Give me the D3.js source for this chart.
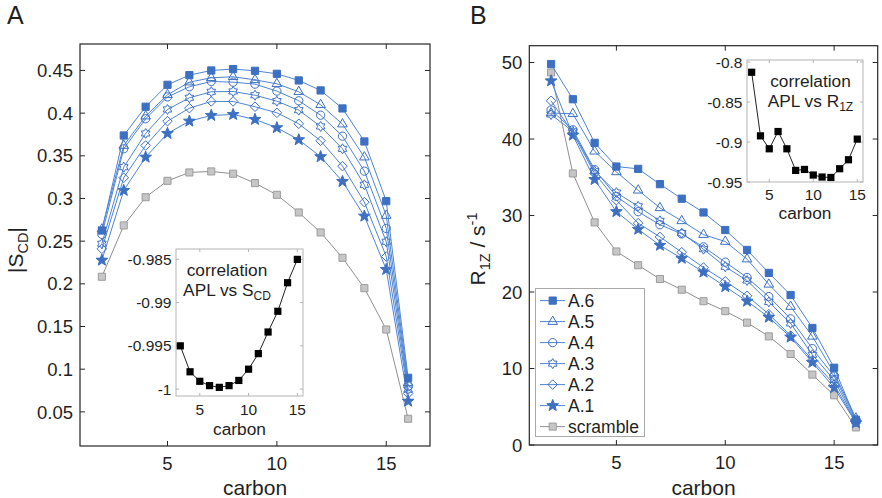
<!DOCTYPE html>
<html>
<head>
<meta charset="utf-8">
<script src="https://cdn.jsdelivr.net/npm/d3@7"></script>
<style>
  body { margin: 0; background: #fff; }
  svg { display: block; }
  text { font-family: "Liberation Sans", Arial, Helvetica, sans-serif; fill: #1f1f1f; }
</style>
</head>
<body>
<svg id="chart" width="882" height="498"></svg>
<script>
// carbons 2..16 for the main panels, 3..15 for the insets
const carbons = [2, 3, 4, 5, 6, 7, 8, 9, 10, 11, 12, 13, 14, 15, 16];
const carbonsInset = [3, 4, 5, 6, 7, 8, 9, 10, 11, 12, 13, 14, 15];
const seriesNames = ["A.6", "A.5", "A.4", "A.3", "A.2", "A.1", "scramble"];

// panel A : |S_CD|
const scdA6 = [0.2625, 0.3738, 0.4075, 0.4332, 0.4445, 0.4500, 0.4516, 0.4496, 0.4461, 0.4383, 0.4266, 0.4055, 0.3668, 0.2969, 0.0899];
const scdA5 = [0.2640, 0.3620, 0.3965, 0.4215, 0.4363, 0.4414, 0.4426, 0.4390, 0.4344, 0.4250, 0.4098, 0.3871, 0.3484, 0.2800, 0.0840];
const scdA4 = [0.2580, 0.3582, 0.3934, 0.4190, 0.4309, 0.4371, 0.4363, 0.4340, 0.4258, 0.4145, 0.3976, 0.3730, 0.3320, 0.2649, 0.0800];
const scdA3 = [0.2470, 0.3367, 0.3762, 0.4043, 0.4180, 0.4250, 0.4254, 0.4210, 0.4140, 0.4035, 0.3844, 0.3582, 0.3160, 0.2493, 0.0760];
const scdA2 = [0.2410, 0.3243, 0.3621, 0.3906, 0.4058, 0.4137, 0.4137, 0.4075, 0.4004, 0.3875, 0.3676, 0.3379, 0.2957, 0.2320, 0.0715];
const scdA1 = [0.2277, 0.3094, 0.3484, 0.3762, 0.3906, 0.3973, 0.3984, 0.3926, 0.3829, 0.3688, 0.3489, 0.3199, 0.2793, 0.2168, 0.0625];
const scdScramble = [0.2083, 0.2684, 0.3015, 0.3207, 0.3305, 0.3317, 0.3290, 0.3180, 0.3043, 0.2836, 0.2602, 0.2305, 0.1949, 0.1465, 0.0419];
const corrScd = [-0.9950, -0.9980, -0.9991, -0.9996, -0.9998, -0.9996, -0.9990, -0.9977, -0.9959, -0.9934, -0.9910, -0.9877, -0.9850];

// panel B : R1Z
const r1zA6 = [49.8, 45.2, 39.5, 36.4, 36.1, 34.1, 32.2, 30.4, 28.1, 25.5, 22.5, 19.6, 15.3, 10.1, 3.3];
const r1zA5 = [43.4, 43.3, 38.4, 35.7, 33.3, 31.0, 29.3, 27.5, 26.6, 24.3, 21.0, 18.1, 14.2, 9.4, 3.5];
const r1zA4 = [43.8, 41.2, 36.0, 32.5, 30.5, 28.8, 27.6, 25.9, 23.9, 21.9, 19.4, 16.5, 12.6, 9.0, 3.3];
const r1zA3 = [43.2, 41.0, 35.8, 33.0, 31.2, 29.3, 27.7, 25.6, 23.3, 21.5, 18.7, 15.9, 11.8, 8.5, 3.1];
const r1zA2 = [45.0, 40.8, 35.5, 32.0, 29.0, 27.2, 25.2, 23.2, 21.4, 19.5, 17.1, 14.3, 11.1, 7.9, 3.0];
const r1zA1 = [47.6, 40.5, 34.7, 30.5, 28.2, 26.1, 24.4, 22.6, 20.7, 18.8, 16.7, 14.1, 10.8, 7.5, 2.9];
const r1zScramble = [48.7, 35.5, 29.1, 25.3, 23.5, 21.7, 20.3, 18.8, 17.5, 16.0, 14.2, 11.9, 9.2, 6.5, 2.3];
const corrR1z = [-0.8128, -0.8923, -0.9085, -0.8869, -0.9085, -0.9355, -0.9343, -0.9413, -0.9438, -0.9443, -0.9334, -0.9222, -0.8964];

const xTicks = [5, 10, 15];
const yTicksScd = [0.05, 0.1, 0.15, 0.2, 0.25, 0.3, 0.35, 0.4, 0.45];
const yTicksR1z = [0, 10, 20, 30, 40, 50];
const yTicksCorrScd = [-1, -0.995, -0.99, -0.985];
const yTicksCorrR1z = [-0.95, -0.9, -0.85, -0.8];

const BLUE = "#3d70c2";
const BLUE_LINE = "#4f84d2";

// custom marker shapes (size = radius^2)
const starType = (n, ratio) => ({
  draw(ctx, size) {
    const r = Math.sqrt(size);
    for (let i = 0; i < 2 * n; i++) {
      const a = -Math.PI / 2 + (i * Math.PI) / n;
      const rr = i % 2 === 0 ? r : r * ratio;
      if (i === 0) ctx.moveTo(rr * Math.cos(a), rr * Math.sin(a));
      else ctx.lineTo(rr * Math.cos(a), rr * Math.sin(a));
    }
    ctx.closePath();
  },
});
const diamondType = {
  draw(ctx, size) {
    const r = Math.sqrt(size);
    ctx.moveTo(0, -r);
    ctx.lineTo(r, 0);
    ctx.lineTo(0, r);
    ctx.lineTo(-r, 0);
    ctx.closePath();
  },
};

const markerStyles = {
  "A.6": { type: d3.symbolSquare, size: 52, fill: BLUE, stroke: BLUE, line: BLUE_LINE },
  "A.5": { type: d3.symbolTriangle, size: 40, fill: "none", stroke: BLUE, line: BLUE_LINE },
  "A.4": { type: d3.symbolCircle, size: 54, fill: "none", stroke: BLUE, line: BLUE_LINE },
  "A.3": { type: starType(6, 0.6), size: 25, fill: "none", stroke: BLUE, line: BLUE_LINE },
  "A.2": { type: diamondType, size: 23, fill: "none", stroke: BLUE, line: BLUE_LINE },
  "A.1": { type: starType(5, 0.42), size: 38, fill: BLUE, stroke: BLUE, line: BLUE_LINE },
  scramble: { type: d3.symbolSquare, size: 50, fill: "#c6c6c6", stroke: "#9c9c9c", line: "#8f8f8f" },
};

const svg = d3.select("#chart");

const drawFrame = (g, box, x, y, ticksX, ticksY, fmtY, opts) => {
  const { tickLen, color, labelSize, labelGap, xLabelOffset } = opts;
  g.append("rect")
    .attr("x", box.left).attr("y", box.top)
    .attr("width", box.right - box.left).attr("height", box.bottom - box.top)
    .attr("fill", "#fff").attr("stroke", color).attr("stroke-width", opts.frameWidth || 1);

  const ticks = g.append("g").attr("stroke", color).attr("stroke-width", 1);
  ticksX.forEach((t) => {
    ticks.append("line").attr("x1", x(t)).attr("x2", x(t)).attr("y1", box.bottom).attr("y2", box.bottom - tickLen);
    ticks.append("line").attr("x1", x(t)).attr("x2", x(t)).attr("y1", box.top).attr("y2", box.top + tickLen);
  });
  ticksY.forEach((t) => {
    ticks.append("line").attr("y1", y(t)).attr("y2", y(t)).attr("x1", box.left).attr("x2", box.left + tickLen);
    ticks.append("line").attr("y1", y(t)).attr("y2", y(t)).attr("x1", box.right).attr("x2", box.right - tickLen);
  });

  g.append("g").selectAll("text").data(ticksX).enter().append("text")
    .attr("x", (d) => x(d)).attr("y", box.bottom + xLabelOffset)
    .attr("text-anchor", "middle").attr("font-size", labelSize)
    .text((d) => d);
  g.append("g").selectAll("text").data(ticksY).enter().append("text")
    .attr("x", box.left - labelGap).attr("y", (d) => y(d)).attr("dy", "0.36em")
    .attr("text-anchor", "end").attr("font-size", labelSize)
    .text(fmtY);
};

const drawSeries = (g, x, y, xs, values, style) => {
  const line = d3.line().x((d, i) => x(xs[i])).y((d) => y(d));
  g.append("path").datum(values)
    .attr("d", line).attr("fill", "none")
    .attr("stroke", style.line).attr("stroke-width", 1);
  g.append("g").selectAll("path").data(values).enter().append("path")
    .attr("transform", (d, i) => `translate(${x(xs[i])},${y(d)})`)
    .attr("d", d3.symbol().type(style.type).size(style.size))
    .attr("fill", style.fill).attr("stroke", style.stroke).attr("stroke-width", 1);
};

const drawMain = (box, yDomain, yTicks, fmtY, seriesValues) => {
  const g = svg.append("g");
  const x = d3.scaleLinear().domain([1, 17]).range([box.left, box.right]);
  const y = d3.scaleLinear().domain(yDomain).range([box.bottom, box.top]);
  drawFrame(g, box, x, y, xTicks, yTicks, fmtY, {
    tickLen: 5, color: "#262626", labelSize: 18.5, labelGap: 7, xLabelOffset: 24, frameWidth: 1.2,
  });
  const order = ["scramble", "A.1", "A.2", "A.3", "A.4", "A.5", "A.6"];
  order.forEach((name) => {
    drawSeries(g, x, y, carbons, seriesValues[name], markerStyles[name]);
  });
  g.append("text")
    .attr("x", (box.left + box.right) / 2).attr("y", 495)
    .attr("text-anchor", "middle").attr("font-size", 21)
    .text("carbon");
  return g;
};

const drawInset = (box, xDomain, yDomain, yTicks, values, tickY, carbonY) => {
  const g = svg.append("g");
  const x = d3.scaleLinear().domain(xDomain).range([box.left, box.right]);
  const y = d3.scaleLinear().domain(yDomain).range([box.bottom, box.top]);
  drawFrame(g, box, x, y, xTicks, yTicks, (d) => String(+d.toFixed(3)), {
    tickLen: 3, color: "#b4b4b4", labelSize: 15.5, labelGap: 4.5, xLabelOffset: tickY,
  });
  const line = d3.line().x((d, i) => x(carbonsInset[i])).y((d) => y(d));
  g.append("path").datum(values)
    .attr("d", line).attr("fill", "none").attr("stroke", "#222").attr("stroke-width", 1);
  g.append("g").selectAll("rect").data(values).enter().append("rect")
    .attr("x", (d, i) => x(carbonsInset[i]) - 3.6).attr("y", (d) => y(d) - 3.6)
    .attr("width", 7.2).attr("height", 7.2).attr("fill", "#000");
  g.append("text")
    .attr("x", (box.left + box.right) / 2).attr("y", carbonY)
    .attr("text-anchor", "middle").attr("font-size", 17.3)
    .text("carbon");
  return g;
};

const corrLabel = (cx, y1, y2, sym, sub) => {
  svg.append("text").attr("x", cx).attr("y", y1)
    .attr("text-anchor", "middle").attr("font-size", 17.3).text("correlation");
  const t = svg.append("text").attr("x", cx).attr("y", y2)
    .attr("text-anchor", "middle").attr("font-size", 17.3);
  t.append("tspan").text("APL vs " + sym);
  t.append("tspan").attr("dy", 4).attr("font-size", 12).text(sub);
};

// ---------- panel A ----------
const boxA = { left: 80, top: 44, right: 430, bottom: 446 };
drawMain(boxA, [0.01, 0.481], yTicksScd, (d) => String(+d.toFixed(2)), {
  "A.6": scdA6, "A.5": scdA5, "A.4": scdA4, "A.3": scdA3, "A.2": scdA2, "A.1": scdA1, scramble: scdScramble,
});
drawInset({ left: 176, top: 249, right: 303, bottom: 396 }, [2.56, 15.58], [-1.0008, -0.9838], yTicksCorrScd, corrScd, 18.5, 435);
corrLabel(227, 276, 296, "S", "CD");

const ylabA = svg.append("text")
  .attr("transform", "translate(23,250) rotate(-90)")
  .attr("text-anchor", "middle").attr("font-size", 21);
ylabA.append("tspan").text("|S");
ylabA.append("tspan").attr("dy", 5).attr("font-size", 14.5).text("CD");
ylabA.append("tspan").attr("dy", -5).text("|");

svg.append("text").attr("x", 7).attr("y", 24).attr("font-size", 25).text("A");

// ---------- panel B ----------
const boxB = { left: 529.3, top: 45.7, right: 877.7, bottom: 445 };
drawMain(boxB, [0, 52.2], yTicksR1z, (d) => String(d), {
  "A.6": r1zA6, "A.5": r1zA5, "A.4": r1zA4, "A.3": r1zA3, "A.2": r1zA2, "A.1": r1zA1, scramble: r1zScramble,
});
drawInset({ left: 747, top: 60, right: 863, bottom: 182 }, [2.47, 15.65], [-0.95, -0.7975], yTicksCorrR1z, corrR1z, 17.5, 219);
corrLabel(810.5, 86.5, 107.3, "R", "1Z");

const ylabB = svg.append("text")
  .attr("transform", "translate(485,249) rotate(-90)")
  .attr("text-anchor", "middle").attr("font-size", 21);
ylabB.append("tspan").text("R");
ylabB.append("tspan").attr("dy", 5).attr("font-size", 14.5).text("1Z");
ylabB.append("tspan").attr("dy", -5).text(" / s");
ylabB.append("tspan").attr("dy", -8).attr("font-size", 14.5).text("-1");

svg.append("text").attr("x", 470).attr("y", 23.5).attr("font-size", 25).text("B");

// ---------- legend ----------
const legend = svg.append("g");
legend.append("rect")
  .attr("x", 535.5).attr("y", 288.5).attr("width", 109).attr("height", 148)
  .attr("fill", "#fff").attr("stroke", "#a8a8a8").attr("stroke-width", 1);
const legendRows = legend.selectAll("g").data(seriesNames).enter().append("g")
  .attr("transform", (d, i) => `translate(0,${300.6 + i * 21})`);
legendRows.append("line")
  .attr("x1", 540).attr("x2", 565).attr("y1", 0).attr("y2", 0)
  .attr("stroke", (d) => markerStyles[d].line).attr("stroke-width", 1);
legendRows.append("path")
  .attr("transform", "translate(552.7,0)")
  .attr("d", (d) => d3.symbol().type(markerStyles[d].type).size(markerStyles[d].size)())
  .attr("fill", (d) => markerStyles[d].fill)
  .attr("stroke", (d) => markerStyles[d].stroke).attr("stroke-width", 1);
legendRows.append("text")
  .attr("x", 568).attr("y", 0).attr("dy", "0.36em")
  .attr("font-size", 17.5)
  .text((d) => d);
</script>
</body>
</html>
